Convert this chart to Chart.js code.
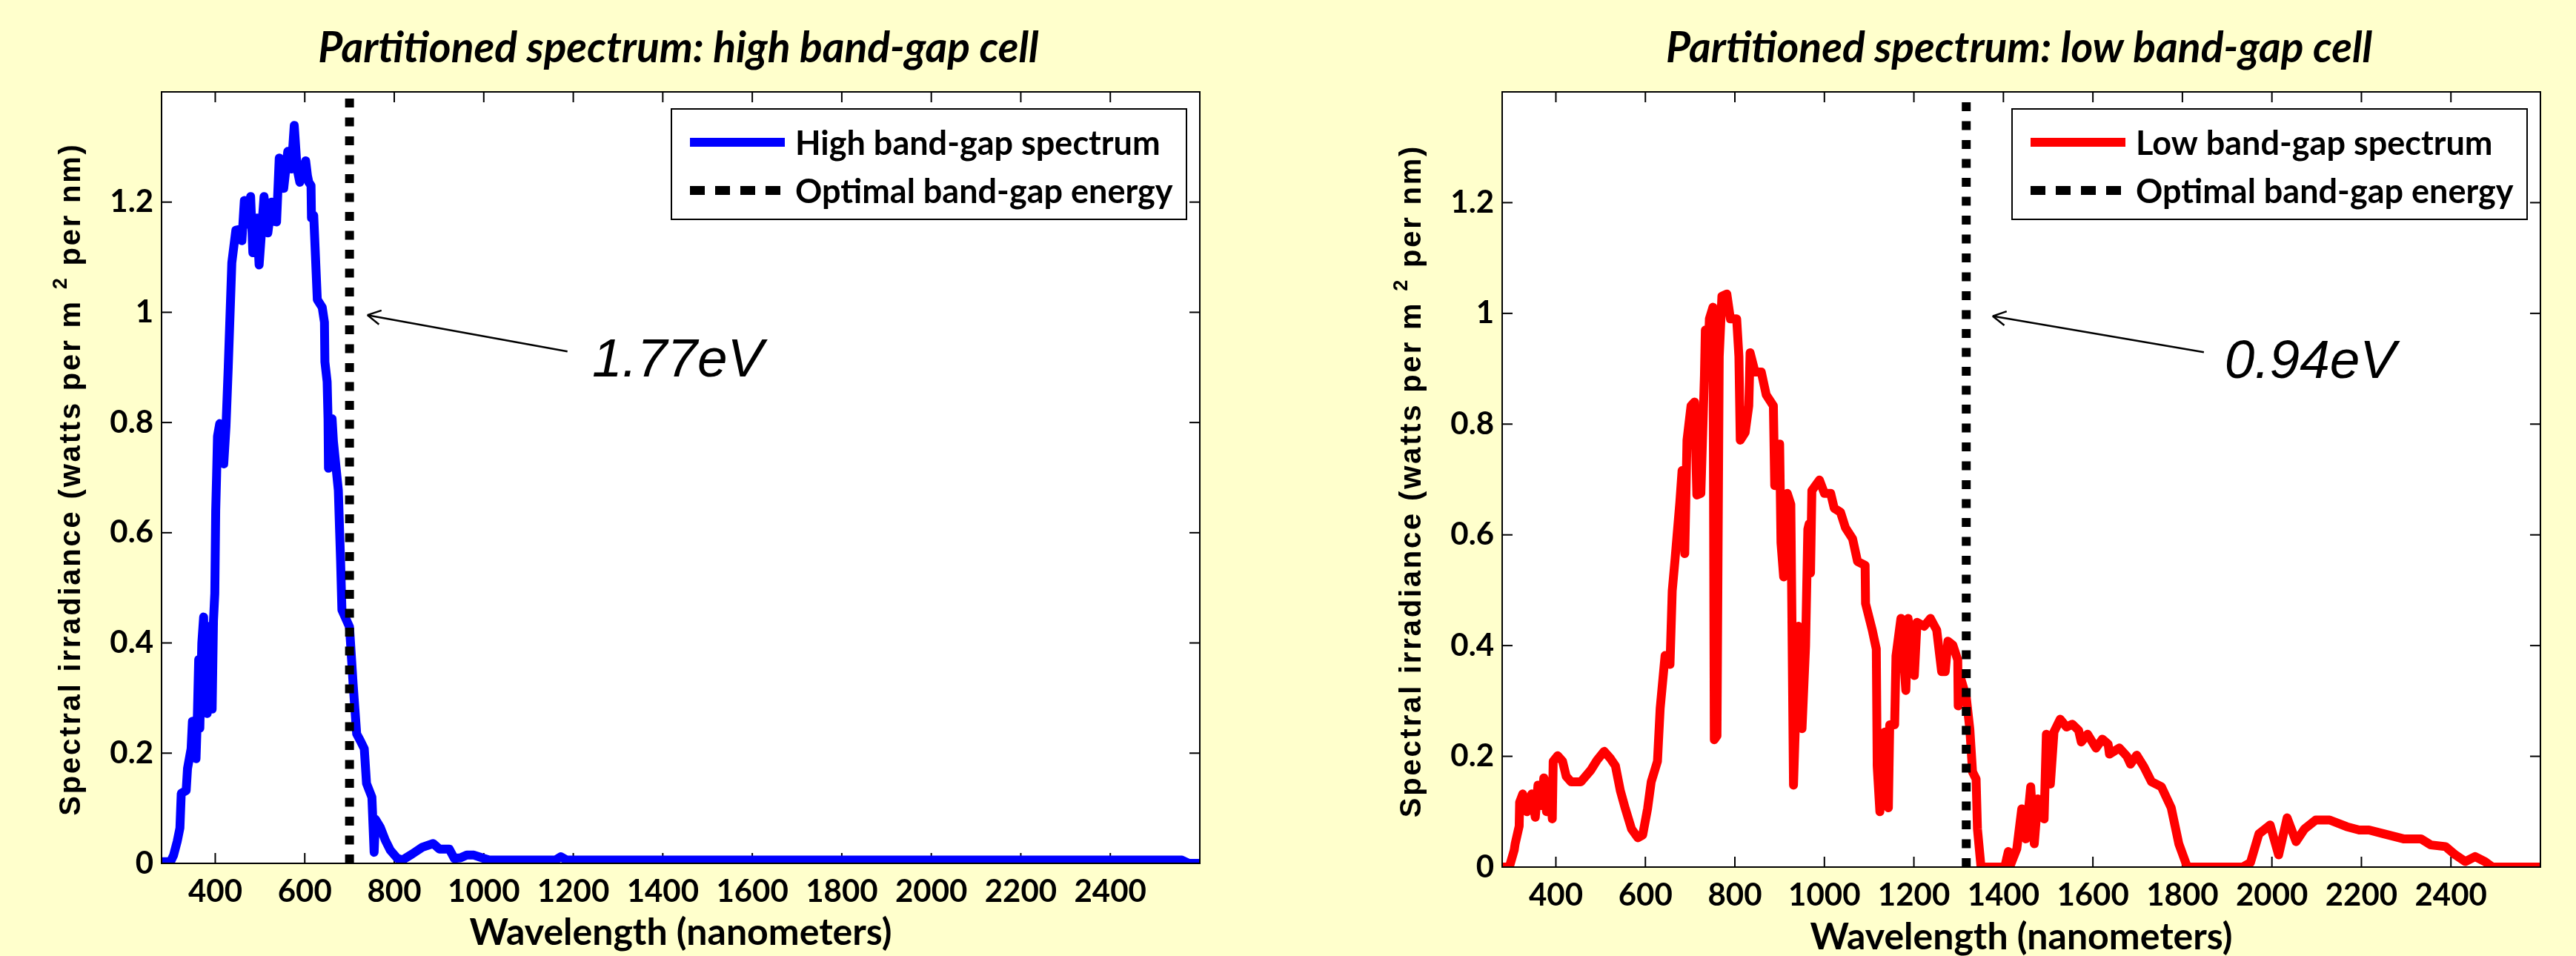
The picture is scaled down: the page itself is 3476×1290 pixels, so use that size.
<!DOCTYPE html>
<html>
<head>
<meta charset="utf-8">
<title>Partitioned spectrum</title>
<script src="https://cdn.jsdelivr.net/npm/chart.js@4.4.1/dist/chart.umd.min.js"></script>
<style>
  body { margin: 0; background: #ffffcc; width: 3476px; height: 1290px; overflow: hidden; }
  canvas { position: absolute; top: 0; }
  #chartHigh { left: 0; }
  #chartLow { left: 1738px; }
</style>
</head>
<body>
<canvas id="chartHigh" width="1738" height="1290"></canvas>
<canvas id="chartLow" width="1738" height="1290"></canvas>
<script>
// wavelength (nm) / spectral irradiance (W m^-2 nm^-1)
const highNm = [280, 300, 307, 315, 321, 324, 335, 338, 346, 349, 357, 360, 363, 365.5, 370, 374, 378, 382, 386, 390,
  393, 396, 399, 401, 403, 405, 410, 419, 424, 429, 437, 446, 452, 459.5, 465, 472, 479, 484, 493, 498,
  509, 517.5, 526, 531, 537, 543, 553, 562, 570, 576.5, 583, 589, 602, 606, 609, 614, 615, 620, 628, 639,
  644, 645, 650, 652, 653, 656, 661, 664, 675, 678, 680, 683, 700, 708, 716, 724.5, 733, 738, 750, 755,
  758, 769, 780, 791, 807, 818, 840, 862, 887, 901, 923, 934, 948, 962, 978, 1000, 1012, 1160, 1172, 1185,
  2560, 2575, 2600];
const highIrr = [0.003, 0.003, 0.015, 0.04, 0.064, 0.127, 0.132, 0.172, 0.208, 0.258, 0.19, 0.267, 0.37, 0.245, 0.40, 0.447, 0.30, 0.272, 0.43, 0.30,
  0.28, 0.44, 0.49, 0.64, 0.704, 0.775, 0.798, 0.725, 0.793, 0.90, 1.09, 1.149, 1.15, 1.13, 1.203, 1.16, 1.21, 1.108, 1.171, 1.086,
  1.21, 1.144, 1.20, 1.165, 1.164, 1.28, 1.225, 1.292, 1.26, 1.339, 1.26, 1.236, 1.275, 1.248, 1.236, 1.23, 1.171, 1.176, 1.023, 1.009,
  0.982, 0.91, 0.874, 0.807, 0.717, 0.80, 0.807, 0.766, 0.677, 0.60, 0.55, 0.46, 0.429, 0.326, 0.235, 0.222, 0.208, 0.145, 0.12, 0.02,
  0.08, 0.065, 0.042, 0.024, 0.009, 0.006, 0.017, 0.029, 0.036, 0.026, 0.026, 0.009, 0.01, 0.015, 0.015, 0.009, 0.006, 0.006, 0.012, 0.006,
  0.006, 0, 0];

const lowNm = [280, 296, 307, 309, 318, 319, 326, 335, 346, 354, 360, 368, 373, 379, 386, 392, 394, 404, 415, 423,
  434, 456, 478, 492, 508, 522, 533, 544, 555, 569, 583, 594, 605, 613, 627, 633, 644, 655, 660, 666,
  677, 682, 688, 693, 702, 710, 715, 724, 732, 734, 740, 743, 751, 754, 760, 765, 771, 782, 790, 804,
  809, 812, 823, 831, 834, 845, 859, 870, 886, 889, 900, 903, 909, 917, 925, 931, 942, 950, 958, 963,
  966, 969, 972, 980, 989, 1000, 1014, 1022, 1036, 1047, 1063, 1074, 1091, 1092, 1107, 1116, 1118, 1124, 1135, 1143,
  1146, 1157, 1160, 1171, 1182, 1187, 1201, 1207, 1223, 1237, 1251, 1262, 1270, 1276, 1287, 1298, 1299, 1305, 1317, 1325,
  1331, 1339, 1342, 1350, 1403, 1411, 1414, 1430, 1441, 1450, 1461, 1469, 1477, 1491, 1496, 1505, 1513, 1527, 1541, 1554,
  1568, 1574, 1588, 1607, 1621, 1634, 1637, 1659, 1676, 1684, 1698, 1714, 1731, 1753, 1775, 1792, 1811, 1935, 1952, 1971,
  1996, 2015, 2034, 2054, 2073, 2098, 2129, 2167, 2195, 2217, 2250, 2294, 2333, 2355, 2388, 2410, 2432, 2454, 2476, 2493,
  2600];
const lowIrr = [0, 0, 0.031, 0.042, 0.074, 0.117, 0.132, 0.10, 0.132, 0.09, 0.148, 0.111, 0.161, 0.10, 0.155, 0.087, 0.191, 0.201, 0.191, 0.164,
  0.154, 0.154, 0.175, 0.193, 0.209, 0.196, 0.183, 0.138, 0.106, 0.069, 0.053, 0.058, 0.106, 0.154, 0.191, 0.286, 0.382, 0.366, 0.499, 0.553,
  0.659, 0.716, 0.566, 0.771, 0.833, 0.84, 0.672, 0.675, 0.888, 0.97, 0.915, 0.99, 1.011, 0.23, 0.237, 0.922, 1.031, 1.035, 0.99, 0.99,
  0.922, 0.771, 0.785, 0.833, 0.929, 0.894, 0.894, 0.853, 0.833, 0.689, 0.764, 0.586, 0.524, 0.675, 0.655, 0.148, 0.435, 0.25, 0.40, 0.61,
  0.62, 0.531, 0.68, 0.689, 0.699, 0.675, 0.675, 0.648, 0.641, 0.613, 0.593, 0.552, 0.545, 0.476, 0.428, 0.394, 0.182, 0.10, 0.244, 0.107,
  0.257, 0.257, 0.381, 0.449, 0.319, 0.449, 0.346, 0.442, 0.435, 0.449, 0.428, 0.353, 0.353, 0.408, 0.401, 0.374, 0.291, 0.34, 0.307, 0.249,
  0.172, 0.159, 0.069, 0, 0, 0.028, 0, 0.033, 0.105, 0.051, 0.145, 0.042, 0.123, 0.087, 0.24, 0.15, 0.244, 0.267, 0.253, 0.258,
  0.247, 0.226, 0.24, 0.215, 0.231, 0.222, 0.204, 0.215, 0.2, 0.186, 0.202, 0.181, 0.154, 0.145, 0.107, 0.042, 0, 0, 0.008, 0.06,
  0.076, 0.022, 0.089, 0.046, 0.069, 0.085, 0.085, 0.073, 0.067, 0.067, 0.06, 0.051, 0.051, 0.04, 0.037, 0.022, 0.01, 0.019, 0.01, 0,
  0];

const xTicks = [400, 600, 800, 1000, 1200, 1400, 1600, 1800, 2000, 2200, 2400];
const yTicks = [0, 0.2, 0.4, 0.6, 0.8, 1, 1.2];
const gapNm = [700, 1317];            // optimal band-gap wavelength
const gapLabels = ['1.77eV', '0.94eV'];
const seriesLabels = ['High band-gap spectrum', 'Low band-gap spectrum'];
const titles = ['Partitioned spectrum: high band-gap cell', 'Partitioned spectrum: low band-gap cell'];
const yTitleParts = ['Spectral irradiance (watts per m ', '2', ' per nm)'];

const X_MIN = 280, X_MAX = 2600, Y_MAX = 1.4;

const tickFont = { family: 'Lato', size: 42, weight: 'bold' };

// panel layout (pixels) and annotation anchors (data units)
const panels = [
  { id: 'chartHigh', nm: highNm, irr: highIrr, color: '#0000ff', padRight: 119, yWidth: 218, xHeight: 125,
    yTitleX: 97, xTitlePad: 1, arrowTip: [740, 0.995], arrowTail: [1187, 0.929], textAt: [1242, 0.883] },
  { id: 'chartLow', nm: lowNm, irr: lowIrr, color: '#ff0000', padRight: 48, yWidth: 289, xHeight: 120,
    yTitleX: 168, xTitlePad: -5, arrowTip: [1376, 0.995], arrowTail: [1848, 0.93], textAt: [1894, 0.884] }
];

function line(ctx, x1, y1, x2, y2) {
  ctx.beginPath(); ctx.moveTo(x1, y1); ctx.lineTo(x2, y2); ctx.stroke();
}

function drawYTitle(ctx, cx, cy) {
  ctx.save();
  ctx.translate(cx, cy);
  ctx.rotate(-Math.PI / 2);
  ctx.fillStyle = '#000';
  ctx.textAlign = 'left';
  ctx.textBaseline = 'middle';
  ctx.letterSpacing = '2.8px';
  const big = 'bold 40px "Liberation Sans"', small = 'bold 27px "Liberation Sans"';
  const parts = [[yTitleParts[0], big, 0], [yTitleParts[1], small, -14], [yTitleParts[2], big, 0]];
  let total = 0;
  parts.forEach(([t, f]) => { ctx.font = f; total += ctx.measureText(t).width; });
  let x = -total / 2;
  parts.forEach(([t, f, dy]) => { ctx.font = f; ctx.fillText(t, x, dy); x += ctx.measureText(t).width; });
  ctx.restore();
}

function makeDecor(p, k) {
  return {
    id: 'decor',
    beforeDraw(chart) {
      const { ctx, chartArea: a } = chart;
      ctx.save();
      ctx.fillStyle = '#ffffff';
      ctx.fillRect(a.left, a.top, a.right - a.left, a.bottom - a.top);
      ctx.restore();
    },
    beforeDatasetsDraw(chart) {
      const { ctx, chartArea: a, scales } = chart;
      ctx.save();
      ctx.strokeStyle = '#000';
      ctx.lineWidth = 2;
      xTicks.forEach(v => {
        const px = scales.x.getPixelForValue(v);
        line(ctx, px, a.bottom, px, a.bottom - 14);
        line(ctx, px, a.top, px, a.top + 14);
      });
      yTicks.forEach(v => {
        const py = scales.y.getPixelForValue(v);
        line(ctx, a.left, py, a.left + 14, py);
        line(ctx, a.right, py, a.right - 14, py);
      });
      ctx.restore();
    },
    afterDatasetsDraw(chart) {
      const { ctx, chartArea: a, scales } = chart;
      ctx.save();
      // axes box
      ctx.strokeStyle = '#000';
      ctx.lineWidth = 2;
      ctx.strokeRect(a.left, a.top, a.right - a.left, a.bottom - a.top);

      // title
      ctx.fillStyle = '#000';
      ctx.font = 'italic bold 57px Lato';
      ctx.textAlign = 'center';
      ctx.textBaseline = 'middle';
      ctx.fillText(titles[k], (a.left + a.right) / 2 - 3, 66);

      // y axis title (rotated, with superscript)
      drawYTitle(ctx, p.yTitleX, (a.top + a.bottom) / 2 + 2);

      // legend
      const bw = 695, bh = 149;
      const bx = a.right - 18 - bw, by = a.top + 23;
      ctx.fillStyle = '#fff';
      ctx.fillRect(bx, by, bw, bh);
      ctx.lineWidth = 2;
      ctx.strokeStyle = '#000';
      ctx.strokeRect(bx, by, bw, bh);
      chart.data.datasets.forEach((ds, i) => {
        const yy = by + 45 + i * 65;
        ctx.strokeStyle = ds.borderColor;
        ctx.lineWidth = ds.borderWidth;
        ctx.setLineDash(ds.borderDash ? [20, 14] : []);
        ctx.lineCap = 'butt';
        line(ctx, bx + 25, yy, bx + 153, yy);
        ctx.setLineDash([]);
        ctx.fillStyle = '#000';
        ctx.font = 'bold 45px Lato';
        ctx.textAlign = 'left';
        ctx.textBaseline = 'middle';
        ctx.fillText(ds.label, bx + 167, yy + 2);
      });

      // arrow + band-gap energy label
      const tx = scales.x.getPixelForValue(p.arrowTip[0]), ty = scales.y.getPixelForValue(p.arrowTip[1]);
      const sx = scales.x.getPixelForValue(p.arrowTail[0]), sy = scales.y.getPixelForValue(p.arrowTail[1]);
      ctx.strokeStyle = '#000';
      ctx.lineWidth = 2.5;
      line(ctx, sx, sy, tx, ty);
      const ang = Math.atan2(sy - ty, sx - tx);
      [-0.5, 0.5].forEach(d => line(ctx, tx, ty, tx + 20 * Math.cos(ang + d), ty + 20 * Math.sin(ang + d)));
      ctx.font = 'italic 73px "Liberation Sans"';
      ctx.fillStyle = '#000';
      ctx.textAlign = 'left';
      ctx.textBaseline = 'alphabetic';
      ctx.fillText(gapLabels[k], scales.x.getPixelForValue(p.textAt[0]), scales.y.getPixelForValue(p.textAt[1]));
      ctx.restore();
    }
  };
}

panels.forEach((p, k) => {
  new Chart(document.getElementById(p.id), {
    type: 'scatter',
    data: {
      datasets: [
        {
          label: seriesLabels[k],
          data: p.nm.map((x, i) => ({ x: x, y: p.irr[i] })),
          showLine: true,
          borderColor: p.color,
          borderWidth: 12,
          borderJoinStyle: 'round',
          borderCapStyle: 'round',
          pointRadius: 0,
          clip: 0,
          order: 1
        },
        {
          label: 'Optimal band-gap energy',
          data: [{ x: gapNm[k], y: 0 }, { x: gapNm[k], y: Y_MAX }],
          showLine: true,
          borderColor: '#000000',
          borderWidth: 12,
          borderDash: [12, 13.5],
          pointRadius: 0,
          clip: 0,
          order: 0
        }
      ]
    },
    options: {
      responsive: false,
      animation: false,
      devicePixelRatio: 1,
      layout: { padding: { top: 124, right: p.padRight, left: 0, bottom: 0 } },
      plugins: {
        legend: { display: false },
        tooltip: { enabled: false },
        title: { display: false }
      },
      scales: {
        x: {
          type: 'linear',
          min: X_MIN,
          max: X_MAX,
          afterBuildTicks: s => { s.ticks = xTicks.map(v => ({ value: v })); },
          afterFit: s => { s.height = p.xHeight; },
          grid: { display: false, drawTicks: false },
          border: { display: false },
          ticks: { font: tickFont, color: '#000', padding: 13, maxRotation: 0, autoSkip: false, callback: v => String(v) },
          title: {
            display: true,
            text: 'Wavelength (nanometers)',
            color: '#000',
            font: { family: 'Lato', size: 50, weight: 'bold' },
            padding: { top: 0, bottom: p.xTitlePad }
          }
        },
        y: {
          type: 'linear',
          min: 0,
          max: Y_MAX,
          afterBuildTicks: s => { s.ticks = yTicks.map(v => ({ value: v })); },
          afterFit: s => { s.width = p.yWidth; },
          grid: { display: false, drawTicks: false },
          border: { display: false },
          ticks: { font: tickFont, color: '#000', padding: 11, callback: v => String(v) },
          title: { display: false }
        }
      }
    },
    plugins: [makeDecor(p, k)]
  });
});
</script>
</body>
</html>
